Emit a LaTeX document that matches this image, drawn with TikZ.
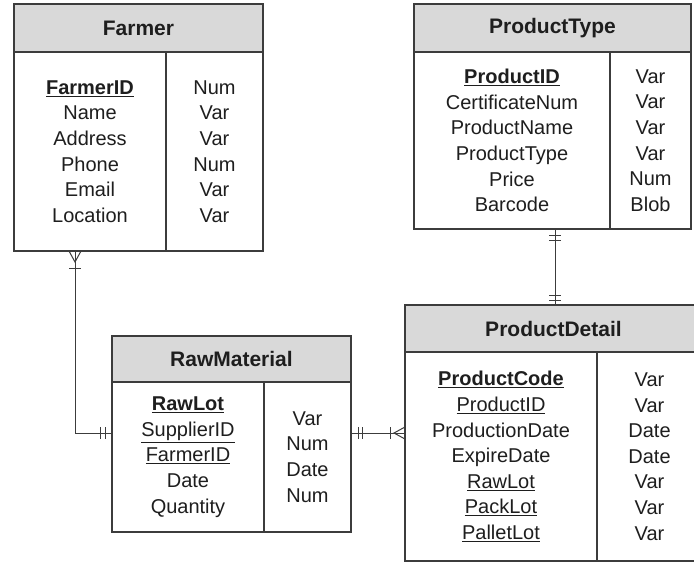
\documentclass[tikz,border=0pt]{standalone}
\usepackage{fontspec}
\setmainfont{Liberation Sans}
\usetikzlibrary{calc}
\definecolor{edgecol}{HTML}{3C3C3C}
\definecolor{hdrfill}{HTML}{D9D9D9}
\definecolor{txtcol}{HTML}{1E1E1E}
\newcommand\keyu[1]{\underline{#1}}
\tikzset{
  hdr/.style={draw=edgecol, line width=1.3pt, fill=hdrfill, anchor=north west,
    inner sep=0pt, outer sep=0pt, text=txtcol,
    font=\fontsize{21}{24}\selectfont\bfseries},
  cell/.style={draw=edgecol, line width=1.3pt, fill=white, anchor=north west,
    inner sep=0pt, outer sep=0pt, align=center, text=txtcol,
    font=\fontsize{20}{25.6}\selectfont},
  conn/.style={draw=edgecol, line width=1pt},
  tick/.style={draw=edgecol, line width=1pt}
}
\begin{document}
\begin{tikzpicture}[x=1pt,y=-1pt]
\useasboundingbox (0,0) rectangle (694,562);
\clip (0,0) rectangle (694,562);
\fill[white] (0,0) rectangle (694,562);

% Farmer
\node[hdr, minimum width=249pt, minimum height=48pt] (farmerH) at (14,4) {Farmer};
\node[cell, minimum width=152pt, minimum height=199pt] (farmerK) at (farmerH.south west)
  {\textbf{\keyu{FarmerID}}\\Name\\Address\\Phone\\Email\\Location};
\node[cell, minimum width=97pt, minimum height=199pt] (farmerR) at (farmerK.north east)
  {Num\\Var\\Var\\Num\\Var\\Var};

% ProductType
\node[hdr, minimum width=277pt, minimum height=48pt] (ptH) at (414,4) {ProductType};
\node[cell, minimum width=196pt, minimum height=177pt] (ptK) at (ptH.south west)
  {\textbf{\keyu{ProductID}}\\CertificateNum\\ProductName\\ProductType\\Price\\Barcode};
\node[cell, minimum width=81pt, minimum height=177pt] (ptR) at (ptK.north east)
  {Var\\Var\\Var\\Var\\Num\\Blob};

% RawMaterial
\node[hdr, minimum width=239pt, minimum height=46pt] (rawH) at (112,336) {RawMaterial};
\node[cell, minimum width=152pt, minimum height=150pt] (rawK) at (rawH.south west)
  {\textbf{\keyu{RawLot}}\\\keyu{SupplierID}\\\keyu{FarmerID}\\Date\\Quantity};
\node[cell, minimum width=87pt, minimum height=150pt] (rawR) at (rawK.north east)
  {Var\\Num\\Date\\Num};

% ProductDetail
\node[hdr, minimum width=297pt, minimum height=47pt] (pdH) at (405,305) {ProductDetail};
\node[cell, minimum width=192pt, minimum height=209pt] (pdK) at (pdH.south west)
  {\textbf{\keyu{ProductCode}}\\\keyu{ProductID}\\ProductionDate\\ExpireDate\\\keyu{RawLot}\\\keyu{PackLot}\\\keyu{PalletLot}};
\node[cell, minimum width=105pt, minimum height=209pt] (pdR) at (pdK.north east)
  {Var\\Var\\Date\\Date\\Var\\Var\\Var};

% connector routing coordinates
\coordinate (c1) at (75,433);
\coordinate (c3) at (555,300);

% Farmer -- RawMaterial
\draw[conn] (farmerK.south -| c1) |- (rawK.west |- c1);
\begin{scope}[shift={(farmerK.south -| c1)}]
  \draw[tick] (-6,0) -- (0,11) -- (6,0);
  \draw[tick] (-6,17) -- (6,17);
\end{scope}
\begin{scope}[shift={(rawK.west |- c1)}]
  \draw[tick] (-12,-6) -- (-12,6);
  \draw[tick] (-7,-6) -- (-7,6);
\end{scope}

% RawMaterial -- ProductDetail
\draw[conn] (rawR.east |- c1) -- (pdK.west |- c1);
\begin{scope}[shift={(rawR.east |- c1)}]
  \draw[tick] (7,-6) -- (7,6);
  \draw[tick] (11,-6) -- (11,6);
\end{scope}
\begin{scope}[shift={(pdK.west |- c1)}]
  \draw[tick] (0,-6) -- (-11,0) -- (0,6);
  \draw[tick] (-15,-6) -- (-15,6);
\end{scope}

% ProductType -- ProductDetail
\draw[conn] (ptK.south -| c3) -- (pdH.north -| c3);
\begin{scope}[shift={(ptK.south -| c3)}]
  \draw[tick] (-6,6) -- (6,6);
  \draw[tick] (-6,11) -- (6,11);
\end{scope}
\begin{scope}[shift={(pdH.north -| c3)}]
  \draw[tick] (-6,-10) -- (6,-10);
  \draw[tick] (-6,-5) -- (6,-5);
\end{scope}
\end{tikzpicture}
\end{document}
